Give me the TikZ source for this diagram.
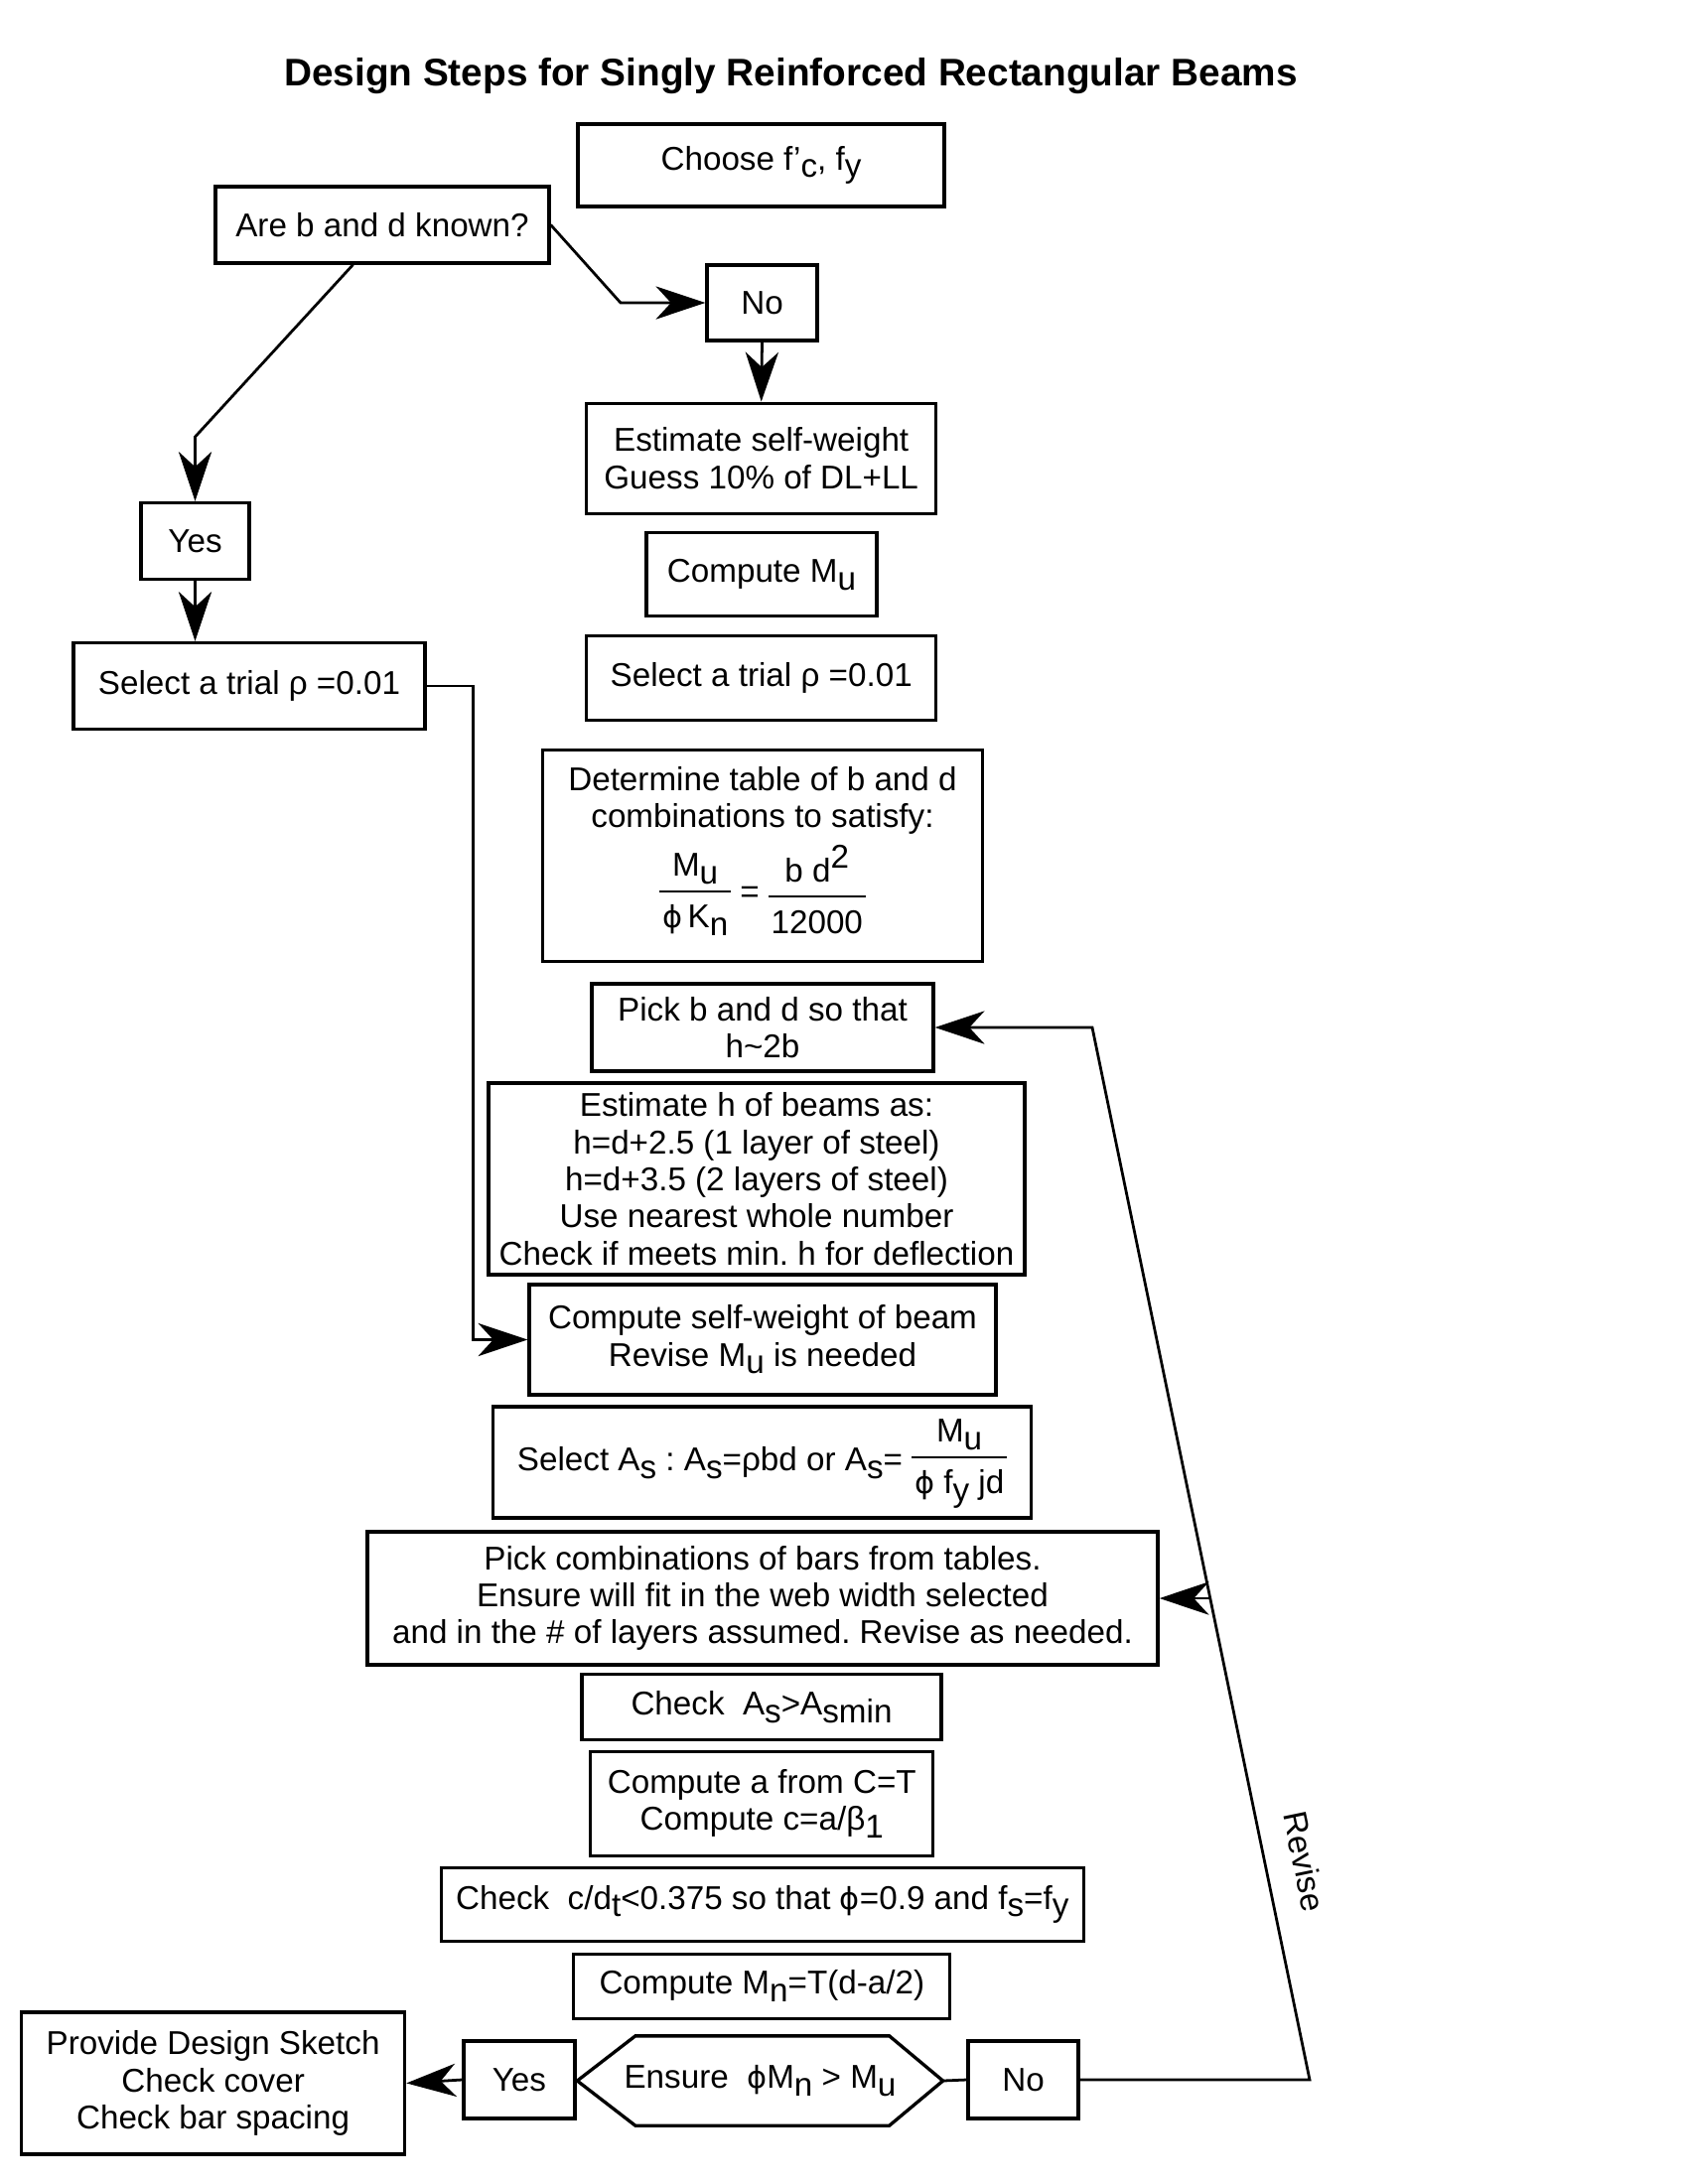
\documentclass[tikz,border=0pt]{standalone}
\usepackage{fontspec}
\setmainfont{Liberation Sans}
\newfontfamily\phifont{DejaVu Sans}
\usetikzlibrary{arrows.meta,calc}
\setlength{\arrayrulewidth}{0.7pt}
\frenchspacing
\newcommand{\lsb}[1]{\raisebox{-2.8pt}{#1}}
\newcommand{\lsp}[1]{\raisebox{5pt}{#1}}
\newcommand{\vph}{{\phifont\fontsize{11}{11}\selectfont ϕ}}
\newcommand{\lfrac}[2]{\begin{tabular}{@{\hspace{1pt}}c@{\hspace{1pt}}}#1\\[1pt]\hline\rule{0pt}{13pt}#2\end{tabular}}
\begin{document}
\begin{tikzpicture}[x=0.127mm,y=-0.127mm,
  box/.style={draw,line width=1.2pt,align=center,inner sep=0pt,font=\fontsize{12}{13.5}\selectfont},
  sz/.style 2 args={minimum width=#1*0.127mm,minimum height=#2*0.127mm},
  conn/.style={line width=1pt},
  arr/.style={conn,-{Stealth[length=18pt,width=12pt,inset=5.5pt]}}]
\useasboundingbox (0,0) rectangle (1700,2200);
\node[anchor=base,font=\fontsize{14}{16}\selectfont\bfseries] (ttl) at (796.5,86) {Design Steps for Singly Reinforced Rectangular Beams};
\node[box,sz={369}{83}] (choose) at (766.5,166.5) {Choose f’\lsb{c}, f\lsb{y}};
\node[box,sz={336}{77}] (areb) at (385,226.5) {Are b and d known?};
\node[box,sz={111}{76}] (no1) at (767.5,305) {No};
\node[box,sz={352}{111}] (est) at (766.7,461.7) {Estimate self-weight\\Guess 10\% of DL+LL};
\node[box,sz={232}{84}] (mu) at (767,578.7) {Compute M\lsb{u}};
\node[box,sz={352}{85}] (selR) at (766.7,683) {Select a trial ρ =0.01};
\node[box,sz={109}{77}] (yes1) at (196.5,545) {Yes};
\node[box,sz={354}{87}] (selL) at (251,691) {Select a trial ρ =0.01};
\node[box,sz={443.5}{213}] (det) at (768,861.7) {Determine table of b and d\\combinations to satisfy:\\[3pt]
  \lfrac{M\lsb{u}}{\vph\,K\lsb{n}} = \lfrac{b d\lsp{2}}{12000}};
\node[box,sz={344}{88}] (pick) at (768,1035) {Pick b and d so that\\h\char`~2b};
\node[box,sz={540}{193}] (esth) at (762,1187.5) {Estimate h of beams as:\\h=d+2.5 (1 layer of steel)\\h=d+3.5 (2 layers of steel)\\Use nearest whole number\\Check if meets min. h for deflection};
\node[box,sz={470}{111}] (csw) at (768,1349.5) {Compute self-weight of beam\\Revise M\lsb{u} is needed};
\node[box,sz={542}{112}] (selAs) at (767.5,1473) {Select A\lsb{s} : A\lsb{s}=ρbd or A\lsb{s}= \lfrac{M\lsb{u}}{\vph\ f\lsb{y} jd}};
\node[box,sz={796}{134}] (pickc) at (768,1610) {Pick combinations of bars from tables.\\Ensure will fit in the web width selected\\and in the \# of layers assumed. Revise as needed.};
\node[box,sz={362}{66}] (chk) at (767,1719.6) {Check\ \ A\lsb{s}>A\lsb{smin}};
\node[box,sz={345}{105}] (ca) at (767.3,1816.7) {Compute a from C=T\\Compute c=a/β\lsb{1}};
\node[box,sz={647}{74}] (cdt) at (767.8,1918.4) {Check\ \ c/d\lsb{t}<0.375 so that \vph=0.9 and f\lsb{s}=f\lsb{y}};
\node[box,sz={379}{65}] (cmn) at (767.3,2000.8) {Compute M\lsb{n}=T(d-a/2)};
\node[box,draw=none,sz={365}{87}] (ens) at (765.5,2096) {Ensure\ \ \vph M\lsb{n} > M\lsb{u}};
\draw[line width=1.2pt] (ens.west) -- ($(ens.north west)+(58.5,0)$) -- ($(ens.north east)+(-54,0)$) -- (ens.east) -- ($(ens.south east)+(-54,0)$) -- ($(ens.south west)+(58.5,0)$) -- cycle;
\node[box,sz={111}{78}] (no2) at (1030.6,2095) {No};
\node[box,sz={112}{78}] (yes2) at (522.9,2095) {Yes};
\node[box,sz={386}{143}] (prov) at (214.6,2098.4) {Provide Design Sketch\\Check cover\\Check bar spacing};
% connectors
\draw[arr] (areb.east) -- (625,305) -- (no1.west);
\draw[arr] ($(areb.south)+(-29.5,0)$) -- (196.5,440) -- (yes1.north);
\draw[arr] (no1.south) -- (est.north);
\draw[arr] (yes1.south) -- (yes1.south |- selL.north);
\draw[arr] (selL.east) -- ++(47,0) |- (csw.west);
\draw[conn] (yes2.east) -- (ens.west);
\draw[conn] (ens.east) -- (no2.west);
\draw[arr] (yes2.west) -- (prov.east);
\coordinate (rv1) at (1319,2095);
\coordinate (rv2) at (1100,1035);
\draw[arr] (no2.east) -- (rv1) -- (rv2) -- (pick.east);
\coordinate (rvj) at ($(rv1)!{(2095-1610)/(2095-1035)}!(rv2)$);
\draw[arr] (rvj) -- (rvj -| pickc.east);
\node[font=\fontsize{12}{13.5}\selectfont,rotate=-78.3] (rev) at (1314,1875) {Revise};
\end{tikzpicture}
\end{document}
